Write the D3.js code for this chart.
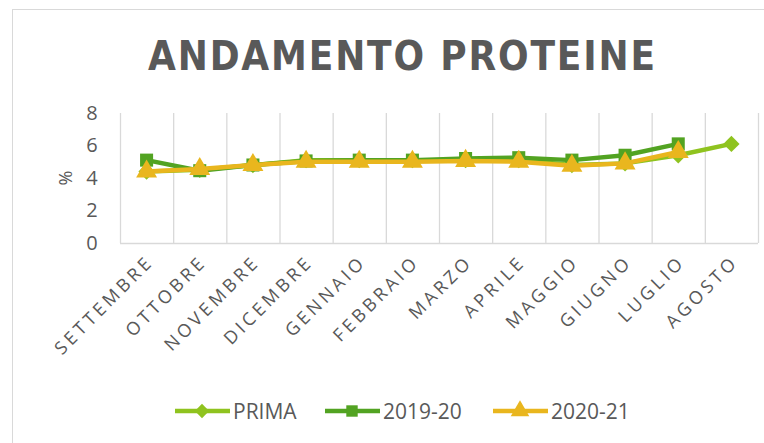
<!DOCTYPE html>
<meta charset="utf-8">
<style>
  body { margin: 0; background: #fff; }
  text { fill: #595959; }
</style>
<svg width="764" height="443"></svg>
<script src="https://d3js.org/d3.v7.min.js"></script>
<script>
var months = ["SETTEMBRE", "OTTOBRE", "NOVEMBRE", "DICEMBRE", "GENNAIO", "FEBBRAIO",
              "MARZO", "APRILE", "MAGGIO", "GIUGNO", "LUGLIO", "AGOSTO"];
var prima  = [4.4, 4.5, 4.8, 5.1, 5.1, 5.1, 5.1, 5.1, 4.8, 4.9, 5.4, 6.1];
var y1920  = [5.1, 4.45, 4.8, 5.05, 5.1, 5.1, 5.2, 5.25, 5.1, 5.4, 6.1, null];
var y2021  = [4.4, 4.55, 4.8, 5.0, 5.0, 5.0, 5.05, 5.0, 4.75, 4.9, 5.6, null];
var yTicks = [0, 2, 4, 6, 8];

var series = [
  { name: "PRIMA",   values: prima, color: "#8fc31f", shape: d3.symbolDiamond2 },
  { name: "2019-20", values: y1920, color: "#52a322", shape: d3.symbolSquare },
  { name: "2020-21", values: y2021, color: "#e9b61e", shape: d3.symbolTriangle }
];

var svg = d3.select("svg");

// outer frame
svg.append("rect")
  .attr("x", 12.5).attr("y", 9.5)
  .attr("width", 800).attr("height", 500)
  .attr("fill", "none").attr("stroke", "#d9d9d9");

svg.append("text")
  .attr("x", 148).attr("y", 70)
  .attr("textLength", 507)
  .attr("lengthAdjust", "spacing")
  .style("font-family", "DejaVu Sans Condensed")
  .style("font-weight", "bold")
  .style("font-size", "40px")
  .text("ANDAMENTO PROTEINE");

var x = d3.scaleBand().domain(months).range([120, 758]).padding(0);
var y = d3.scaleLinear().domain([0, 8]).range([243, 113]);

// vertical gridlines at category boundaries
svg.append("g")
  .selectAll("line")
  .data(months.map(function(m) { return x(m); }).concat([x.range()[1]]))
  .enter().append("line")
    .attr("x1", function(d) { return d + 0.5; })
    .attr("x2", function(d) { return d + 0.5; })
    .attr("y1", y(8)).attr("y2", y(0))
    .attr("stroke", "#d9d9d9").attr("stroke-width", 1.3);

svg.append("line")
  .attr("x1", 120).attr("x2", 758)
  .attr("y1", y(0) + 0.5).attr("y2", y(0) + 0.5)
  .attr("stroke", "#d9d9d9").attr("stroke-width", 1.3);

// y axis labels
var yAxis = svg.append("g")
  .attr("transform", "translate(100,0)")
  .call(d3.axisLeft(y).tickValues(yTicks).tickSize(0).tickPadding(0));
yAxis.select(".domain").remove();
yAxis.selectAll("text")
  .style("font-family", "Open Sans")
  .style("font-size", "20px")
  .attr("text-anchor", "middle")
  .attr("x", -8)
  .style("fill", "#595959");

svg.append("text")
  .attr("transform", "translate(72,178) rotate(-90)")
  .attr("text-anchor", "middle")
  .style("font-family", "Open Sans")
  .style("font-size", "18px")
  .text("%");

// x axis labels
var xAxis = svg.append("g")
  .attr("transform", "translate(0," + y(0) + ")")
  .call(d3.axisBottom(x).tickSize(0).tickPadding(0));
xAxis.select(".domain").remove();
xAxis.selectAll("text")
  .style("font-family", "Open Sans")
  .style("font-size", "18px")
  .style("letter-spacing", "3.6px")
  .style("fill", "#595959")
  .attr("text-anchor", "end")
  .attr("dy", null)
  .attr("y", 0)
  .attr("transform", "translate(8,20) rotate(-45)");

var line = d3.line()
  .defined(function(d) { return d != null; })
  .x(function(d, i) { return x(months[i]) + x.bandwidth() / 2; })
  .y(function(d) { return y(d); });

series.forEach(function(s) {
  var g = svg.append("g");
  g.append("path")
    .attr("d", line(s.values))
    .attr("fill", "none")
    .attr("stroke", s.color)
    .attr("stroke-width", 4.5)
    .attr("stroke-linejoin", "round");
  g.selectAll("path.m")
    .data(s.values.map(function(v, i) { return { v: v, i: i }; })
      .filter(function(d) { return d.v != null; }))
    .enter().append("path")
      .attr("class", "m")
      .attr("d", d3.symbol().type(s.shape).size(s.shape === d3.symbolTriangle ? 190 : 170))
      .attr("transform", function(d) {
        return "translate(" + (x(months[d.i]) + x.bandwidth() / 2) + "," + y(d.v) + ")";
      })
      .attr("fill", s.color);
});

// legend
var legendX = [175, 325, 493];
series.forEach(function(s, i) {
  var g = svg.append("g").attr("transform", "translate(" + legendX[i] + ",411)");
  g.append("line")
    .attr("x1", 0).attr("x2", 55)
    .attr("stroke", s.color).attr("stroke-width", 4.5);
  g.append("path")
    .attr("d", d3.symbol().type(s.shape).size(s.shape === d3.symbolTriangle ? 150 : 130))
    .attr("transform", "translate(27,0)")
    .attr("fill", s.color);
  g.append("text")
    .attr("x", 58).attr("y", 8)
    .style("font-family", "Open Sans")
    .style("font-size", "21px")
    .text(s.name);
});
</script>
